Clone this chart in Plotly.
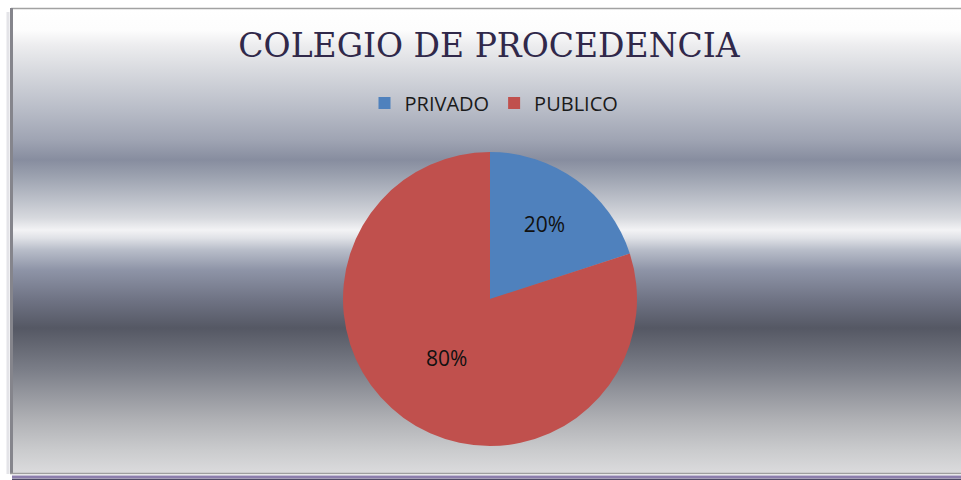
import base64

import plotly.graph_objects as go

W, H = 961, 480

labels = ["PRIVADO", "PUBLICO"]
values = [20, 80]
colors = ["#4f81bd", "#c0504d"]

# metallic background, stops (pixel row -> colour)
bg_stops = [
    (9, "#ffffff"), (30, "#fdfdfd"), (45, "#ededef"), (70, "#d8dadf"),
    (110, "#b8bcc7"), (140, "#9fa4b3"), (160, "#878d9f"), (175, "#9aa0ae"),
    (200, "#bdc1ca"), (218, "#d7d9de"), (230, "#f3f3f5"), (238, "#e0e2e7"),
    (250, "#b8bdc9"), (270, "#8e94a7"), (300, "#6f7384"), (328, "#555864"),
    (345, "#646772"), (370, "#7b7e88"), (395, "#96989f"), (420, "#b0b1b5"),
    (450, "#cacbcd"), (473, "#dbdbdd"),
]


def px_x(x):
    return x / W


def px_y(y):
    return 1 - y / H


top, bottom, left = 9, 473, 13
stops = "".join(
    '<stop offset="%.4f" stop-color="%s"/>' % ((y - top) / (bottom - top), c)
    for y, c in bg_stops
)
svg = ('<svg xmlns="http://www.w3.org/2000/svg" width="100" height="100" preserveAspectRatio="none">'
       '<defs><linearGradient id="g" x1="0" y1="0" x2="0" y2="1">' + stops +
       '</linearGradient></defs><rect width="100" height="100" fill="url(#g)"/></svg>')
bg_uri = "data:image/svg+xml;base64," + base64.b64encode(svg.encode()).decode()

fig = go.Figure()
fig.add_trace(go.Pie(
    labels=labels,
    values=values,
    marker=dict(colors=colors, line=dict(width=0)),
    sort=False,
    direction="clockwise",
    rotation=0,
    textinfo="percent",
    textposition="inside",
    insidetextorientation="horizontal",
    textfont=dict(family="Open Sans", size=21, color="#111111"),
    domain=dict(x=[px_x(340), px_x(640)], y=[px_y(446), px_y(152)]),
    hoverinfo="label+percent",
))

fig.update_layout(
    width=W, height=H,
    margin=dict(l=0, r=0, t=0, b=0),
    paper_bgcolor="#ffffff",
    title=dict(text="COLEGIO DE PROCEDENCIA",
               font=dict(family="DejaVu Serif", size=33, color="#30284a"),
               x=px_x(489), xanchor="center", y=px_y(45), yanchor="middle"),
    legend=dict(orientation="h", x=px_x(494), xanchor="center",
                y=px_y(103), yanchor="middle",
                font=dict(family="Open Sans", size=20, color="#1a1a1a"),
                bgcolor="rgba(0,0,0,0)", itemwidth=30),
    images=[dict(source=bg_uri, xref="paper", yref="paper",
                 x=px_x(left), y=px_y(top), sizex=1 - px_x(left),
                 sizey=(bottom - top) / H, sizing="stretch",
                 xanchor="left", yanchor="top", layer="below")],
    shapes=[
        dict(type="line", xref="paper", yref="paper", x0=px_x(11), x1=1,
             y0=px_y(8.5), y1=px_y(8.5), line=dict(color="#a2a2a2", width=1.5)),
        dict(type="line", xref="paper", yref="paper", x0=px_x(11.5), x1=px_x(11.5),
             y0=px_y(8), y1=px_y(474), line=dict(color="#85858c", width=3)),
        dict(type="line", xref="paper", yref="paper", x0=px_x(8), x1=px_x(8),
             y0=px_y(12), y1=px_y(474), line=dict(color="#e4e4e8", width=3)),
        dict(type="line", xref="paper", yref="paper", x0=px_x(10), x1=1,
             y0=px_y(473.5), y1=px_y(473.5), line=dict(color="#9e9e9e", width=1.5)),
        dict(type="line", xref="paper", yref="paper", x0=px_x(12), x1=1,
             y0=px_y(477), y1=px_y(477), line=dict(color="#8c7eac", width=3)),
        dict(type="line", xref="paper", yref="paper", x0=px_x(12), x1=1,
             y0=px_y(479.5), y1=px_y(479.5), line=dict(color="#4e4a66", width=1.5)),
    ],
)

fig.write_html("out.html", config={"displayModeBar": False},
               post_script="document.body.style.margin='0';document.body.style.overflow='hidden';")
